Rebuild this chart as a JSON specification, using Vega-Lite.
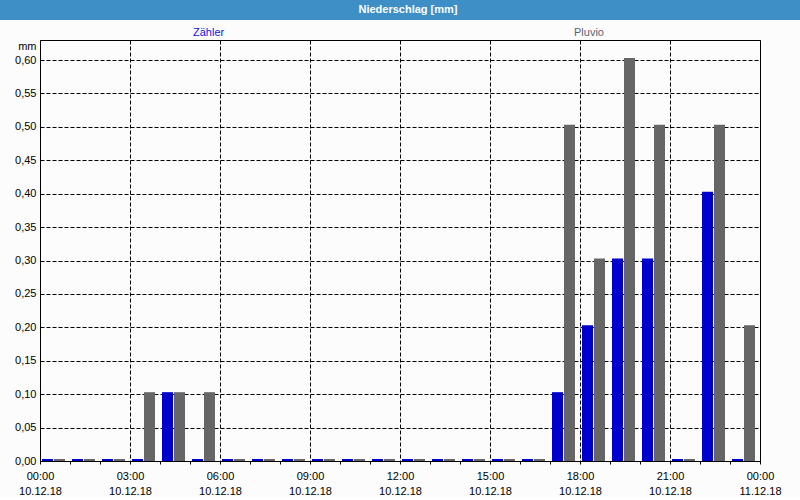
{
  "$schema": "https://vega.github.io/schema/vega-lite/v6.json",
  "background": "#FCFCFC",
  "padding": 0,
  "bounds": "flush",
  "center": true,
  "spacing": 20,
  "config": {"font": "Liberation Sans"},
  "vconcat": [
    {
      "width": 800,
      "height": 20,
      "view": {"fill": "#3D8FC6", "stroke": null},
      "data": {"values": [{"t": "Niederschlag [mm]"}]},
      "mark": {"type": "text", "font": "Liberation Sans", "fontSize": 11, "fontWeight": "bold", "color": "white", "dx": 8},
      "encoding": {"text": {"field": "t", "type": "nominal"}}
    },
    {
      "width": 720,
      "height": 421,
      "view": {"stroke": "black", "strokeWidth": 1},
      "data": {
        "values": [
          {"start": "2018-12-10T00:00", "end": "2018-12-10T01:00", "Zähler": 0, "Pluvio": 0},
          {"start": "2018-12-10T01:00", "end": "2018-12-10T02:00", "Zähler": 0, "Pluvio": 0},
          {"start": "2018-12-10T02:00", "end": "2018-12-10T03:00", "Zähler": 0, "Pluvio": 0},
          {"start": "2018-12-10T03:00", "end": "2018-12-10T04:00", "Zähler": 0, "Pluvio": 0.1},
          {"start": "2018-12-10T04:00", "end": "2018-12-10T05:00", "Zähler": 0.1, "Pluvio": 0.1},
          {"start": "2018-12-10T05:00", "end": "2018-12-10T06:00", "Zähler": 0, "Pluvio": 0.1},
          {"start": "2018-12-10T06:00", "end": "2018-12-10T07:00", "Zähler": 0, "Pluvio": 0},
          {"start": "2018-12-10T07:00", "end": "2018-12-10T08:00", "Zähler": 0, "Pluvio": 0},
          {"start": "2018-12-10T08:00", "end": "2018-12-10T09:00", "Zähler": 0, "Pluvio": 0},
          {"start": "2018-12-10T09:00", "end": "2018-12-10T10:00", "Zähler": 0, "Pluvio": 0},
          {"start": "2018-12-10T10:00", "end": "2018-12-10T11:00", "Zähler": 0, "Pluvio": 0},
          {"start": "2018-12-10T11:00", "end": "2018-12-10T12:00", "Zähler": 0, "Pluvio": 0},
          {"start": "2018-12-10T12:00", "end": "2018-12-10T13:00", "Zähler": 0, "Pluvio": 0},
          {"start": "2018-12-10T13:00", "end": "2018-12-10T14:00", "Zähler": 0, "Pluvio": 0},
          {"start": "2018-12-10T14:00", "end": "2018-12-10T15:00", "Zähler": 0, "Pluvio": 0},
          {"start": "2018-12-10T15:00", "end": "2018-12-10T16:00", "Zähler": 0, "Pluvio": 0},
          {"start": "2018-12-10T16:00", "end": "2018-12-10T17:00", "Zähler": 0, "Pluvio": 0},
          {"start": "2018-12-10T17:00", "end": "2018-12-10T18:00", "Zähler": 0.1, "Pluvio": 0.5},
          {"start": "2018-12-10T18:00", "end": "2018-12-10T19:00", "Zähler": 0.2, "Pluvio": 0.3},
          {"start": "2018-12-10T19:00", "end": "2018-12-10T20:00", "Zähler": 0.3, "Pluvio": 0.6},
          {"start": "2018-12-10T20:00", "end": "2018-12-10T21:00", "Zähler": 0.3, "Pluvio": 0.5},
          {"start": "2018-12-10T21:00", "end": "2018-12-10T22:00", "Zähler": 0, "Pluvio": 0},
          {"start": "2018-12-10T22:00", "end": "2018-12-10T23:00", "Zähler": 0.4, "Pluvio": 0.5},
          {"start": "2018-12-10T23:00", "end": "2018-12-11T00:00", "Zähler": 0, "Pluvio": 0.2}
        ]
      },
      "transform": [{"fold": ["Zähler", "Pluvio"], "as": ["series", "value"]}],
      "encoding": {
        "x": {
          "field": "start",
          "type": "temporal",
          "scale": {
            "domain": [
              {"year": 2018, "month": 12, "date": 10, "hours": 0},
              {"year": 2018, "month": 12, "date": 11, "hours": 0}
            ],
            "nice": false
          },
          "axis": {
            "title": null,
            "domain": false,
            "values": [
              {"year": 2018, "month": 12, "date": 10, "hours": 0},
              {"year": 2018, "month": 12, "date": 10, "hours": 1},
              {"year": 2018, "month": 12, "date": 10, "hours": 2},
              {"year": 2018, "month": 12, "date": 10, "hours": 3},
              {"year": 2018, "month": 12, "date": 10, "hours": 4},
              {"year": 2018, "month": 12, "date": 10, "hours": 5},
              {"year": 2018, "month": 12, "date": 10, "hours": 6},
              {"year": 2018, "month": 12, "date": 10, "hours": 7},
              {"year": 2018, "month": 12, "date": 10, "hours": 8},
              {"year": 2018, "month": 12, "date": 10, "hours": 9},
              {"year": 2018, "month": 12, "date": 10, "hours": 10},
              {"year": 2018, "month": 12, "date": 10, "hours": 11},
              {"year": 2018, "month": 12, "date": 10, "hours": 12},
              {"year": 2018, "month": 12, "date": 10, "hours": 13},
              {"year": 2018, "month": 12, "date": 10, "hours": 14},
              {"year": 2018, "month": 12, "date": 10, "hours": 15},
              {"year": 2018, "month": 12, "date": 10, "hours": 16},
              {"year": 2018, "month": 12, "date": 10, "hours": 17},
              {"year": 2018, "month": 12, "date": 10, "hours": 18},
              {"year": 2018, "month": 12, "date": 10, "hours": 19},
              {"year": 2018, "month": 12, "date": 10, "hours": 20},
              {"year": 2018, "month": 12, "date": 10, "hours": 21},
              {"year": 2018, "month": 12, "date": 10, "hours": 22},
              {"year": 2018, "month": 12, "date": 10, "hours": 23},
              {"year": 2018, "month": 12, "date": 11, "hours": 0}
            ],
            "tickSize": 3,
            "tickColor": "black",
            "labelExpr": "hours(datum.value) % 3 === 0 ? [timeFormat(datum.value, '%H:%M'), timeFormat(datum.value, '%d.%m.%y')] : ''",
            "labelFlush": false,
            "labelOverlap": false,
            "labelLineHeight": 15,
            "labelPadding": 6,
            "labelFont": "Liberation Sans",
            "labelFontSize": 11,
            "labelColor": "black",
            "grid": true,
            "gridColor": "black",
            "gridDash": [4, 2],
            "gridOpacity": {"condition": {"test": "hours(datum.value) % 3 === 0", "value": 1}, "value": 0}
          }
        },
        "x2": {"field": "end"},
        "y": {
          "field": "value",
          "type": "quantitative",
          "scale": {"domain": [0, 0.63], "nice": false},
          "axis": {
            "title": "mm",
            "titleAngle": 0,
            "titleX": -4,
            "titleY": 6,
            "titleAlign": "right",
            "titleBaseline": "middle",
            "titleFont": "Liberation Sans",
            "titleFontSize": 11,
            "titleFontWeight": "normal",
            "titleColor": "black",
            "values": [0, 0.05, 0.1, 0.15, 0.2, 0.25, 0.3, 0.35, 0.4, 0.45, 0.5, 0.55, 0.6],
            "labelExpr": "replace(format(datum.value, '.2f'), '.', ',')",
            "ticks": false,
            "domain": false,
            "labelPadding": 4,
            "labelFont": "Liberation Sans",
            "labelFontSize": 11,
            "labelColor": "black",
            "grid": true,
            "gridColor": "black",
            "gridDash": [4, 2],
            "gridOpacity": 1
          }
        },
        "y2": {"datum": 0},
        "color": {
          "field": "series",
          "type": "nominal",
          "scale": {"domain": ["Zähler", "Pluvio"], "range": ["#0000CC", "#666666"]},
          "legend": {
            "title": null,
            "orient": "none",
            "direction": "horizontal",
            "legendX": 182,
            "legendY": 27,
            "symbolSize": 0,
            "symbolOpacity": 0,
            "symbolStrokeWidth": 0,
            "labelOffset": 0,
            "columnPadding": 338,
            "labelFont": "Liberation Sans",
            "labelFontSize": 11,
            "labelColor": "#606070",
            "encode": {"labels": {"update": {"fill": {"signal": "datum.value === 'Zähler' ? '#1414DC' : '#606070'"}}}}
          }
        }
      },
      "layer": [
        {
          "transform": [{"filter": "datum.series === 'Zähler'"}],
          "mark": {"type": "bar", "xOffset": 2, "x2Offset": -17, "yOffset": -2}
        },
        {
          "transform": [{"filter": "datum.series === 'Pluvio'"}],
          "mark": {"type": "bar", "xOffset": 14, "x2Offset": -5, "yOffset": -2}
        }
      ]
    }
  ]
}
